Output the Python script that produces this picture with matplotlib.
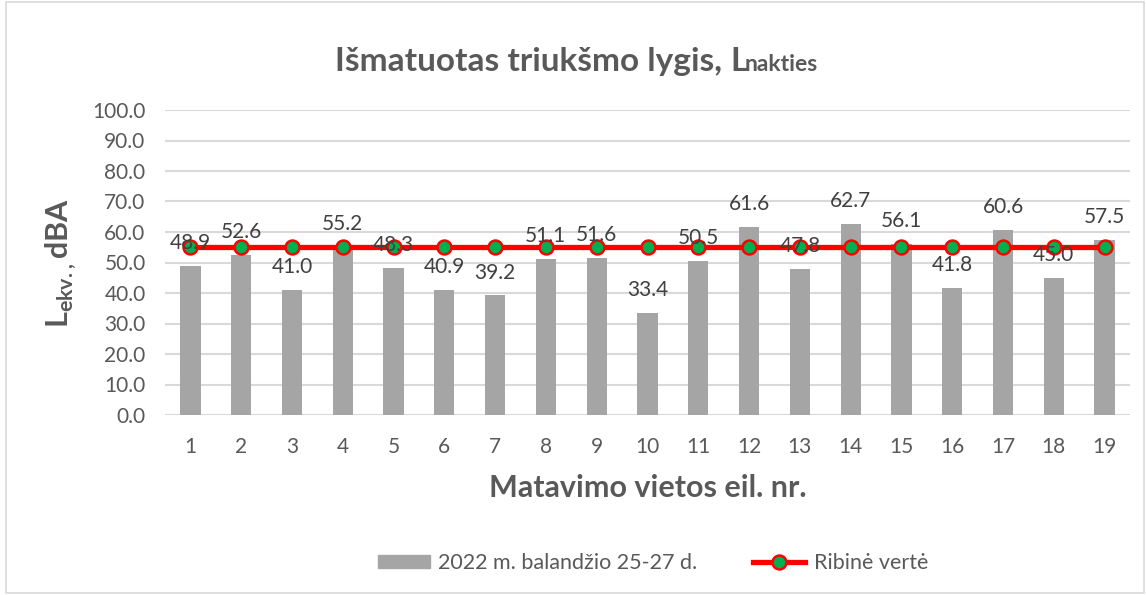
import matplotlib
matplotlib.use("Agg")
import matplotlib.pyplot as plt
from matplotlib.patches import Rectangle
from matplotlib.lines import Line2D
from matplotlib.patches import Patch

plt.rcParams['font.family'] = ['Lato', 'DejaVu Sans']
plt.rcParams['mathtext.fontset'] = 'custom'
plt.rcParams['mathtext.rm'] = 'Lato'
plt.rcParams['mathtext.bf'] = 'Lato:bold'

# Data
vietos = [str(i) for i in range(1, 20)]
matavimai = [48.9, 52.6, 41.0, 55.2, 48.3, 40.9, 39.2, 51.1, 51.6, 33.4,
             50.5, 61.6, 47.8, 62.7, 56.1, 41.8, 60.6, 45.0, 57.5]
ribine = [55] * 19
y_ticks = [0, 10, 20, 30, 40, 50, 60, 70, 80, 90, 100]

txt = '#595959'

fig = plt.figure(figsize=(11.46, 5.95), dpi=100)
ax = fig.add_axes([165 / 1146, 1 - 415 / 595, (1130 - 165) / 1146, (415 - 110) / 595])

x = list(range(1, 20))
ax.bar(x, matavimai, width=0.4, color='#a5a5a5', zorder=2)
ax.plot(x, ribine, color='#ff0000', lw=3.8, marker='o', ms=10,
        mfc='#00b050', mec='#ff0000', mew=1.8, zorder=3)

for xi, v in zip(x, matavimai):
    ax.annotate(f'{v:.1f}', (xi, v), xytext=(0, 16.5), textcoords='offset points',
                ha='center', va='center', fontsize=15, color='#404040', zorder=4)

ax.set_xlim(0.5, 19.5)
ax.set_ylim(0, 100)
ax.set_yticks(y_ticks)
ax.set_yticklabels([f'{t:.1f}' for t in y_ticks])
ax.set_xticks(x)
ax.set_xticklabels(vietos)
ax.tick_params(axis='both', length=0, labelsize=15, labelcolor=txt)
ax.tick_params(axis='y', pad=14)
ax.tick_params(axis='x', pad=16)
ax.grid(axis='y', color='#d9d9d9', lw=1.5, zorder=0)
ax.set_axisbelow(True)
for s in ax.spines.values():
    s.set_visible(False)

ax.set_xlabel('Matavimo vietos eil. nr.', fontsize=22, fontweight='bold', color=txt, labelpad=12)
ax.set_ylabel(r'$\mathbf{L}_{\mathbf{ekv.,}}$dBA', fontsize=22, fontweight='bold', color=txt, labelpad=10)

# title in two parts
t1 = fig.text(335 / 1146, 1 - 71 / 595, 'Išmatuotas triukšmo lygis,', fontsize=24, fontweight='bold',
              color=txt, ha='left', va='baseline')
fig.canvas.draw()
bb = t1.get_window_extent()
x2 = bb.x1 + 8
fig.text(x2 / 1146, 1 - 71 / 595, 'L', fontsize=24, fontweight='bold',
         color=txt, ha='left', va='baseline')
fig.text((x2 + 15) / 1146, 1 - 71 / 595, 'nakties', fontsize=16.5, fontweight='bold',
         color=txt, ha='left', va='baseline')

handles = [Patch(color='#a5a5a5'),
           Line2D([], [], color='#ff0000', lw=3.8, marker='o', ms=10,
                  mfc='#00b050', mec='#ff0000', mew=1.8)]
fig.legend(handles, ['2022 m. balandžio 25-27 d.', 'Ribinė vertė'], ncol=2,
           loc='center', bbox_to_anchor=(653 / 1146, 1 - 563 / 595), frameon=False,
           fontsize=15.5, labelcolor=txt, handlelength=2.4, handleheight=0.6,
           columnspacing=2.6, handletextpad=0.4)

fig.patches.append(Rectangle((6 / 1146, 0.003), 1 - 8 / 1146, 0.994, transform=fig.transFigure,
                             fill=False, edgecolor='#d9d9d9', lw=1.2))

fig.savefig('out.png', dpi=100)
